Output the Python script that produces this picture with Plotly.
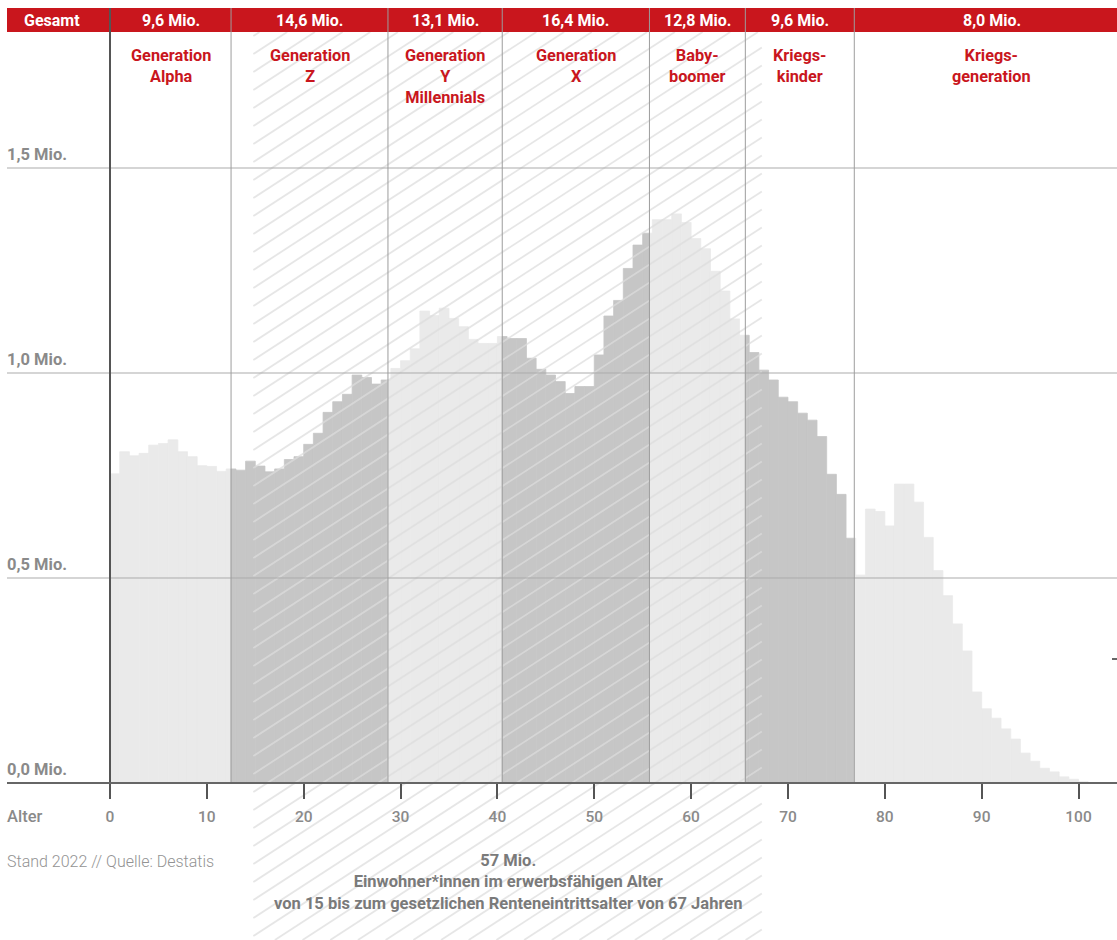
import plotly.graph_objects as go

# ---------------- data ----------------
ages = list(range(0, 101))
population_mio = [
    0.754, 0.808, 0.798, 0.804, 0.824, 0.828, 0.837, 0.808, 0.796, 0.774,
    0.772, 0.760, 0.766, 0.763, 0.785, 0.773, 0.759, 0.766, 0.789, 0.796,
    0.826, 0.853, 0.904, 0.930, 0.948, 0.995, 0.989, 0.973, 0.983, 1.011,
    1.030, 1.059, 1.151, 1.140, 1.158, 1.133, 1.113, 1.082, 1.072, 1.072,
    1.089, 1.084, 1.084, 1.036, 1.009, 0.995, 0.979, 0.950, 0.967, 0.967,
    1.044, 1.139, 1.177, 1.255, 1.312, 1.341, 1.374, 1.374, 1.388, 1.367,
    1.328, 1.303, 1.248, 1.200, 1.132, 1.092, 1.050, 1.007, 0.983, 0.941,
    0.930, 0.902, 0.885, 0.845, 0.753, 0.704, 0.597, 0.507, 0.668, 0.662,
    0.627, 0.729, 0.729, 0.685, 0.599, 0.518, 0.457, 0.388, 0.322, 0.222,
    0.181, 0.158, 0.132, 0.107, 0.073, 0.053, 0.036, 0.027, 0.015, 0.009,
    0.003,
]
gen_edges = [0, 12.5, 28.7, 40.5, 55.7, 65.6, 76.85, 105.2]
gen_names = [
    "Generation<br>Alpha", "Generation<br>Z", "Generation<br>Y<br>Millennials",
    "Generation<br>X", "Baby-<br>boomer", "Kriegs-<br>kinder", "Kriegs-<br>generation",
]
gen_totals = ["9,6 Mio.", "14,6 Mio.", "13,1 Mio.", "16,4 Mio.", "12,8 Mio.", "9,6 Mio.", "8,0 Mio."]
gen_shade = ["light", "dark", "light", "dark", "light", "dark", "light"]
y_ticks = [0.0, 0.5, 1.0, 1.5]
y_tick_labels = ["0,0 Mio.", "0,5 Mio.", "1,0 Mio.", "1,5 Mio."]
x_ticks = [0, 10, 20, 30, 40, 50, 60, 70, 80, 90, 100]
working_age_span = [14.8, 67.3]
working_age_text = ["57 Mio.", "Einwohner*innen im erwerbsfähigen Alter",
                    "von 15 bis zum gesetzlichen Renteneintrittsalter von 67 Jahren"]
source_text = "Stand 2022 // Quelle: Destatis"

# ---------------- styling / geometry ----------------
W, H = 1117, 940
FONT = "Roboto"
RED = "#c9161d"
SHADE = {"light": "#eaeaea", "dark": "#c6c6c6"}
X0_PX, PX_PER_YEAR = 110, 9.685
Y0_PX, PX_PER_MIO = 783, 410
x_range = [(0 - X0_PX) / PX_PER_YEAR, (W - X0_PX) / PX_PER_YEAR]
y_range = [(Y0_PX - H) / PX_PER_MIO, Y0_PX / PX_PER_MIO]


def px_x(px):
    return (px - X0_PX) / PX_PER_YEAR


def py_y(py):
    return (Y0_PX - py) / PX_PER_MIO


def x_px(x):
    return X0_PX + x * PX_PER_YEAR


def gen_index(x):
    for i in range(len(gen_edges) - 1):
        if gen_edges[i] <= x < gen_edges[i + 1]:
            return i
    return len(gen_edges) - 2


# bars, split where a generation boundary cuts a year
centers, widths, heights, colors = [], [], [], []
for a, v in zip(ages, population_mio):
    cuts = [a] + [e for e in gen_edges if a < e < a + 1] + [a + 1]
    for lo, hi in zip(cuts[:-1], cuts[1:]):
        mid = (lo + hi) / 2
        centers.append(mid)
        widths.append(hi - lo)
        heights.append(v)
        colors.append(SHADE[gen_shade[gen_index(mid)]])

fig = go.Figure()
fig.add_trace(go.Bar(
    x=centers, y=heights, width=widths,
    marker=dict(color=colors, line=dict(width=0.8, color=colors)),
    hoverinfo="skip", showlegend=False,
))

# hatch over the working-age span (computed in pixel space)
xl, xr = x_px(working_age_span[0]), x_px(working_age_span[1])
yt, yb = 32, H
slope, step = 0.65, 18.0
hx, hy = [], []
c = yt + 4
while c < yb + slope * (xr - xl) + step:
    xs = max(xl, xl + (c - yb) / slope)
    xe = min(xr, xl + (c - yt) / slope)
    if xe > xs:
        hx += [px_x(xs), px_x(xe), None]
        hy += [py_y(c - slope * (xs - xl)), py_y(c - slope * (xe - xl)), None]
    c += step
fig.add_trace(go.Scatter(
    x=hx, y=hy, mode="lines",
    line=dict(color="rgba(220,220,220,0.72)", width=1.8),
    hoverinfo="skip", showlegend=False,
))

shapes = []
# red header
shapes.append(dict(type="rect", xref="paper", yref="paper",
                   x0=7 / W, x1=1, y0=1 - 32 / H, y1=1 - 8 / H,
                   fillcolor=RED, line=dict(width=0), layer="above"))
# gridlines
for t in y_ticks[1:]:
    shapes.append(dict(type="line", xref="x", yref="y", x0=px_x(7), x1=px_x(W),
                       y0=t, y1=t, line=dict(color="#ababab", width=1), layer="above"))
# generation separators
for e in gen_edges[1:-1]:
    shapes.append(dict(type="line", xref="x", yref="y", x0=e, x1=e,
                       y0=0, y1=py_y(8), line=dict(color="#9d9d9d", width=1), layer="above"))
# y axis line and x axis line
shapes.append(dict(type="line", xref="x", yref="y", x0=0, x1=0, y0=0, y1=py_y(8),
                   line=dict(color="#555555", width=2), layer="above"))
shapes.append(dict(type="line", xref="x", yref="y", x0=px_x(7), x1=px_x(W), y0=0, y1=0,
                   line=dict(color="#666666", width=2), layer="above"))
# small stray dash at right edge
shapes.append(dict(type="line", xref="paper", yref="paper", x0=1112 / W, x1=1,
                   y0=1 - 659 / H, y1=1 - 659 / H,
                   line=dict(color="#333333", width=1.5), layer="above"))

ann = []
ann.append(dict(text="<b>Gesamt</b>", xref="paper", yref="paper", x=52 / W, y=1 - 20 / H,
                showarrow=False, xanchor="center", yanchor="middle",
                font=dict(family=FONT, size=16, color="white")))
for i in range(len(gen_names)):
    lo, hi = gen_edges[i], gen_edges[i + 1]
    mid = (lo + hi) / 2
    ann.append(dict(text="<b>%s</b>" % gen_totals[i], xref="x", yref="paper", x=mid,
                    y=1 - 20.5 / H, showarrow=False, xanchor="center", yanchor="middle",
                    font=dict(family=FONT, size=16, color="white")))
    ann.append(dict(text="<b>%s</b>" % gen_names[i], xref="x", yref="paper", x=mid,
                    y=1 - 44 / H, showarrow=False, xanchor="center", yanchor="top",
                    font=dict(family=FONT, size=16.3, color=RED)))
for t, lab in zip(y_ticks, y_tick_labels):
    ann.append(dict(text="<b>%s</b>" % lab, xref="paper", yref="y", x=5 / W,
                    y=t + 14 / PX_PER_MIO, showarrow=False, xanchor="left", yanchor="middle",
                    font=dict(family=FONT, size=16.5, color="#8a8a8a")))
ann.append(dict(text="Alter", xref="paper", yref="paper", x=5 / W, y=1 - 816 / H,
                showarrow=False, xanchor="left", yanchor="middle",
                font=dict(family=FONT, size=16.5, color="#8a8a8a", weight=500)))
ann.append(dict(text=source_text, xref="paper", yref="paper", x=5 / W, y=1 - 861 / H,
                showarrow=False, xanchor="left", yanchor="middle",
                font=dict(family=FONT, size=16, color="#939393", weight=300)))
ann.append(dict(text="<b>" + "<br>".join(working_age_text) + "</b>", xref="x", yref="paper",
                x=sum(working_age_span) / 2, y=1 - 849 / H, showarrow=False,
                xanchor="center", yanchor="top", align="center",
                font=dict(family=FONT, size=16.5, color="#7a7a7a")))

fig.update_layout(
    width=W, height=H,
    margin=dict(l=0, r=0, t=0, b=0, pad=0),
    paper_bgcolor="white", plot_bgcolor="white",
    showlegend=False, barmode="overlay",
    xaxis=dict(range=x_range, anchor="free", position=(H - Y0_PX) / H,
               showgrid=False, zeroline=False, showline=False,
               tickmode="array", tickvals=x_ticks, ticktext=[str(t) for t in x_ticks],
               ticks="outside", ticklen=15, tickwidth=2, tickcolor="#555555",
               ticklabelstandoff=4,
               tickfont=dict(family=FONT, size=15.5, color="#8a8a8a", weight=500),
               fixedrange=True),
    yaxis=dict(range=y_range, visible=False, fixedrange=True),
    shapes=shapes, annotations=ann,
)

fig.write_html("out.html", config={"displayModeBar": False},
               post_script="document.body.style.margin='0';document.body.style.overflow='hidden';")
